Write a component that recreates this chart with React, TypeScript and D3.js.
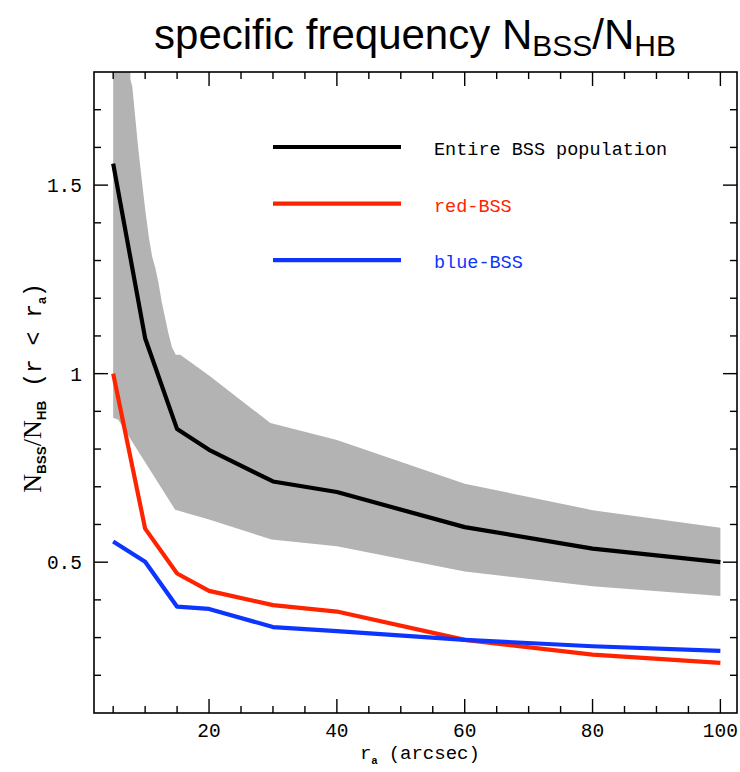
import React from "react";
import * as d3 from "d3";

// ---- data ----
const radii = [5, 10, 15, 20, 30, 40, 60, 80, 100];
const entireBSS = [1.557, 1.094, 0.853, 0.798, 0.714, 0.686, 0.593, 0.536, 0.5];
const redBSS = [1.0, 0.589, 0.47, 0.424, 0.386, 0.369, 0.294, 0.255, 0.233];
const blueBSS = [0.555, 0.501, 0.382, 0.376, 0.328, 0.317, 0.294, 0.277, 0.265];

const bandUpperX = [5, 7.6, 7.7, 8.0, 8.45, 8.95, 9.5, 10.05, 10.6, 11.1, 11.6, 12.1, 12.6, 13.1, 13.6, 14.2, 14.8, 15.5, 20, 29.6, 40, 60, 80, 100];
const bandUpper = [1.95, 1.95, 1.78, 1.76, 1.68, 1.593, 1.51, 1.43, 1.36, 1.31, 1.28, 1.24, 1.19, 1.15, 1.11, 1.07, 1.05, 1.05, 0.995, 0.869, 0.824, 0.708, 0.638, 0.591];
const bandLowerX = [5, 5.8, 14.7, 20, 29.8, 40, 60, 80, 100];
const bandLower = [0.883, 0.878, 0.639, 0.613, 0.56, 0.542, 0.475, 0.436, 0.41];

const xMajorTicks = [20, 40, 60, 80, 100];
const xMinorTicks = [5, 10, 15, 25, 30, 35, 45, 50, 55, 65, 70, 75, 85, 90, 95];
const yMajorTicks = [0.5, 1, 1.5];
const yMajorLabels = ["0.5", "1", "1.5"];
const yMinorTicks = [0.2, 0.3, 0.4, 0.6, 0.7, 0.8, 0.9, 1.1, 1.2, 1.3, 1.4, 1.6, 1.7];

const legendItems = ["Entire BSS population", "red-BSS", "blue-BSS"];
const seriesColors = ["#000000", "#ff2400", "#0c35ff"];

export default function App() {
  const left = 94, right = 737, top = 72, bottom = 713;
  const x = d3.scaleLinear().domain([2, 102.6]).range([left, right]);
  const y = d3.scaleLinear().domain([0.1, 1.8]).range([bottom, top]);

  const line = d3.line<[number, number]>().x((d) => x(d[0])).y((d) => y(d[1]));
  const seriesList = [entireBSS, redBSS, blueBSS];

  const bandPts: [number, number][] = [
    ...bandUpperX.map((v, i) => [v, bandUpper[i]] as [number, number]),
    ...bandLowerX.map((v, i) => [v, bandLower[i]] as [number, number]).reverse(),
  ];
  const bandPath = line(bandPts) + "Z";

  const mono = "'Liberation Mono', 'DejaVu Sans Mono', monospace";
  const sans = "'Liberation Sans', Arial, sans-serif";
  const serif = "'Liberation Serif', 'DejaVu Serif', serif";

  const majorLen = 14, minorLen = 7;
  const tickStroke = { stroke: "#000", strokeWidth: 1.4 };

  return (
    <svg width={740} height={772} style={{ position: "absolute", left: 0, top: 0, background: "#fff" }}>
      <defs>
        <clipPath id="plotClip">
          <rect x={left} y={top} width={right - left} height={bottom - top} />
        </clipPath>
      </defs>
      <rect x={0} y={0} width={740} height={772} fill="#fff" />

      {/* title */}
      <text x={415} y={49} textAnchor="middle" fontFamily={sans} fontSize={42} fill="#000">
        specific frequency N
        <tspan fontSize={30} dy={7}>BSS</tspan>
        <tspan dy={-7}>/N</tspan>
        <tspan fontSize={30} dy={7}>HB</tspan>
      </text>

      {/* band */}
      <g clipPath="url(#plotClip)">
        <path d={bandPath} fill="#b3b3b3" stroke="none" />
        {seriesList.map((s, k) => (
          <path
            key={k}
            d={line(radii.map((r, i) => [r, s[i]] as [number, number])) || ""}
            fill="none"
            stroke={seriesColors[k]}
            strokeWidth={4.2}
            strokeLinejoin="round"
          />
        ))}
      </g>

      {/* legend */}
      {legendItems.map((name, k) => {
        const ly = 147 + k * 56.6;
        return (
          <g key={name}>
            <line x1={273} x2={401} y1={ly} y2={ly} stroke={seriesColors[k]} strokeWidth={4.2} />
            <text x={434} y={ly + 8} fontFamily={mono} fontSize={18.5} fill={seriesColors[k]}>
              {name}
            </text>
          </g>
        );
      })}

      {/* frame */}
      <rect x={left} y={top} width={right - left} height={bottom - top} fill="none" stroke="#000" strokeWidth={1.6} />

      {/* x ticks */}
      {xMajorTicks.map((t) => (
        <g key={"xM" + t}>
          <line x1={x(t)} x2={x(t)} y1={bottom} y2={bottom - majorLen} {...tickStroke} />
          <line x1={x(t)} x2={x(t)} y1={top} y2={top + majorLen} {...tickStroke} />
          <text x={x(t)} y={737} textAnchor="middle" fontFamily={mono} fontSize={19.5} fill="#000">
            {t}
          </text>
        </g>
      ))}
      {xMinorTicks.map((t) => (
        <g key={"xm" + t}>
          <line x1={x(t)} x2={x(t)} y1={bottom} y2={bottom - minorLen} {...tickStroke} />
          <line x1={x(t)} x2={x(t)} y1={top} y2={top + minorLen} {...tickStroke} />
        </g>
      ))}

      {/* y ticks */}
      {yMajorTicks.map((t, i) => (
        <g key={"yM" + t}>
          <line x1={left} x2={left + majorLen} y1={y(t)} y2={y(t)} {...tickStroke} />
          <line x1={right} x2={right - majorLen} y1={y(t)} y2={y(t)} {...tickStroke} />
          <text x={82} y={y(t) + 7} textAnchor="end" fontFamily={mono} fontSize={19.5} fill="#000">
            {yMajorLabels[i]}
          </text>
        </g>
      ))}
      {yMinorTicks.map((t) => (
        <g key={"ym" + t}>
          <line x1={left} x2={left + minorLen} y1={y(t)} y2={y(t)} {...tickStroke} />
          <line x1={right} x2={right - minorLen} y1={y(t)} y2={y(t)} {...tickStroke} />
        </g>
      ))}

      {/* x axis title */}
      <text x={360} y={759} fontFamily={mono} fontSize={19} fill="#000">
        r
        <tspan fontFamily={sans} fontWeight="bold" fontSize={10.5} dy={5}>a</tspan>
        <tspan dy={-5}> (arcsec)</tspan>
      </text>

      {/* y axis title */}
      <text transform="translate(41,388) rotate(-90)" textAnchor="middle" fontFamily={mono} fontSize={23} fill="#000">
        <tspan fontFamily={serif} fontSize={26}>N</tspan>
        <tspan fontFamily={sans} fontWeight="bold" fontSize={13.5} dy={5}>BSS</tspan>
        <tspan fontFamily={serif} fontSize={26} dy={-5}>/N</tspan>
        <tspan fontFamily={sans} fontWeight="bold" fontSize={13.5} dy={5}>HB</tspan>
        <tspan dy={-5}> (r &lt; r</tspan>
        <tspan fontFamily={sans} fontWeight="bold" fontSize={12.5} dy={5}>a</tspan>
        <tspan dy={-5}>)</tspan>
      </text>
    </svg>
  );
}
